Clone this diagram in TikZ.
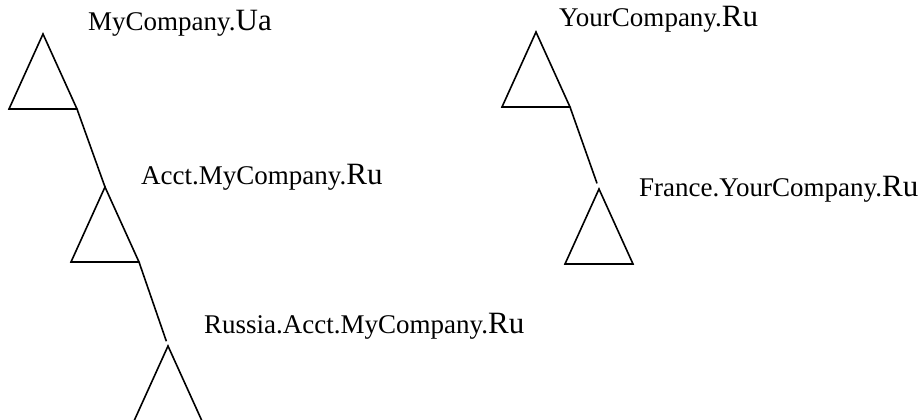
\documentclass[tikz,border=0pt]{standalone}
\usepackage{fontspec}
\setmainfont{Liberation Serif}
\usetikzlibrary{positioning}
\tikzstyle{dom}=[anchor=base west, inner sep=0pt, font=\fontsize{27}{31}\selectfont]
\tikzstyle{tri}=[line width=1.6pt, line join=miter]
\tikzstyle{link}=[line width=1.6pt]
\newcommand{\tld}[1]{{\fontsize{31}{35}\selectfont #1}}
% zone: name, apex x, apex y
\newcommand{\zone}[3]{%
  \coordinate (#1) at (#2,#3);
  \coordinate (#1-l) at (#2-34,#3+75);
  \coordinate (#1-r) at (#2+34,#3+75);
  \draw[tri] (#1) -- (#1-l) -- (#1-r) -- cycle;}

\begin{document}
\begin{tikzpicture}[x=1pt, y=-1pt]
  \clip (0,0) rectangle (924,420);
  % left tree
  \zone{ua}{43}{34}
  \zone{acct}{105}{187}
  \zone{russia}{168}{346}
  % right tree
  \zone{your}{536}{32}
  \zone{france}{599}{189}
  \node[dom] (ualbl) at (88,31) {MyCompany.\tld{Ua}};
  \node[dom] (acctlbl) at (141,184) {Acct.MyCompany.\tld{Ru}};
  \node[dom] (russialbl) at (204,333) {Russia.Acct.MyCompany.\tld{Ru}};
  \node[dom] (yourlbl) at (559,27) {YourCompany.\tld{Ru}};
  \node[dom] (francelbl) at (639,196) {France.YourCompany.\tld{Ru}};
  \draw[link] (ua-r) -- (acct);
  \draw[link, shorten >=5pt] (acct-r) -- (russia);
  \draw[link, shorten >=6pt] (your-r) -- (france);
\end{tikzpicture}
\end{document}
